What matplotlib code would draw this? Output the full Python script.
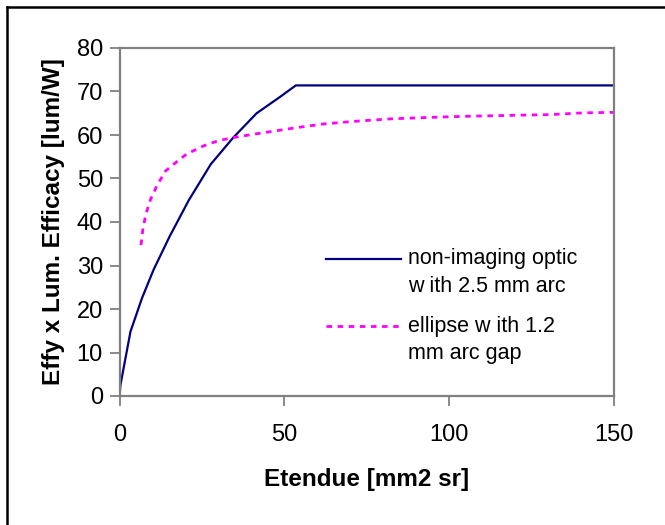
import matplotlib
matplotlib.use('Agg')
import matplotlib.pyplot as plt
from matplotlib.lines import Line2D

# non-imaging optic with 2.5 mm arc
optic_x = [0, 0.25, 3.3, 6.8, 10.3, 15.2, 21.0, 27.7, 34.5, 41.6, 48.6, 53.5, 150]
optic_y = [0, 2.5, 14.8, 22.5, 29.0, 36.7, 45.0, 53.3, 59.4, 65.0, 68.7, 71.4, 71.4]

# ellipse with 1.2 mm arc gap
ellipse_x = [6.5, 7.1, 8.1, 9.4, 11.3, 13.9, 17.1, 20.3, 25.5, 30.0, 34.5, 40.9,
             53.8, 61.5, 70.5, 82.0, 92.4, 105, 118, 131, 141, 150]
ellipse_y = [34.7, 38.6, 42.1, 45.2, 48.3, 51.7, 53.7, 55.6, 57.5, 58.7, 59.4, 60.2,
             61.7, 62.5, 63.1, 63.7, 64.0, 64.3, 64.5, 64.7, 65.1, 65.2]

labels = ['non-imaging optic\nw ith 2.5 mm arc', 'ellipse w ith 1.2\nmm arc gap']

plt.rcParams['font.family'] = ['Liberation Sans', 'DejaVu Sans']

W, H = 665, 525
fig = plt.figure(figsize=(W / 100, H / 100), dpi=100)
ax = fig.add_axes([119.6 / W, 1 - 396 / H, 494.1 / W, 348 / H])

ax.plot(optic_x, optic_y, color='#000080', lw=1.6)
ax.plot(ellipse_x, ellipse_y, color='#ff00ff', lw=2.0, ls=(0, (2, 2)))

ax.set_xlim(0, 150)
ax.set_ylim(0, 80)
ax.set_xticks([0, 50, 100, 150])
ax.set_yticks(range(0, 81, 10))
for s in ax.spines.values():
    s.set_color('#808080')
    s.set_linewidth(1.6)
ax.tick_params(colors='#808080', width=1.3, length=7, labelcolor='black', labelsize=17)
ax.tick_params(axis='x', pad=13)
ax.tick_params(axis='y', pad=5)

ax.set_xlabel('Etendue [mm2 sr]', fontsize=17.5, fontweight='bold', labelpad=16)
ax.set_ylabel('Effy x Lum. Efficacy [lum/W]', fontsize=17.5, fontweight='bold', labelpad=8)

# legend drawn like the Excel one
styles = [dict(color='#000080', lw=1.6), dict(color='#ff00ff', lw=2.0, ls=(0, (2, 2)))]
line_y = [0.394, 0.200]
text_y = [0.355, 0.161]
for lab, st, ly, ty in zip(labels, styles, line_y, text_y):
    ax.add_line(Line2D([0.417, 0.569], [ly, ly], transform=ax.transAxes, **st))
    ax.text(0.584, ty, lab, transform=ax.transAxes, fontsize=15.5, va='center',
            ha='left', linespacing=1.42)

# outer chart border (only top and left edges are visible)
fig.add_artist(Line2D([7 / W, 1], [1 - 7 / H, 1 - 7 / H], transform=fig.transFigure,
                      color='black', lw=1.8))
fig.add_artist(Line2D([7 / W, 7 / W], [0, 1 - 7 / H], transform=fig.transFigure,
                      color='black', lw=1.8))

fig.savefig('out.png', dpi=100)
